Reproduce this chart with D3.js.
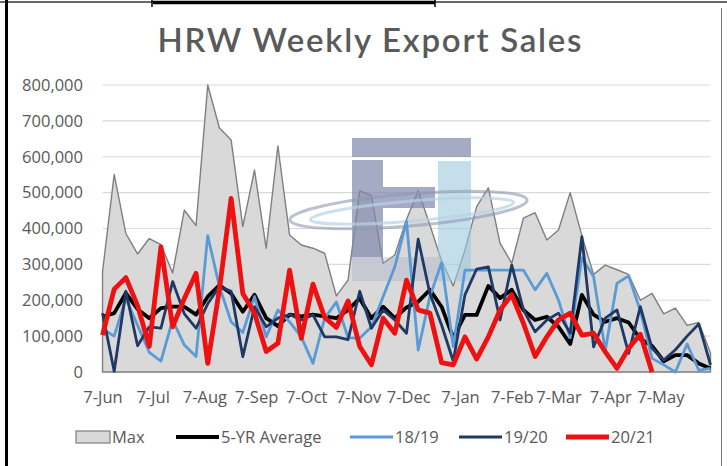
<!DOCTYPE html>
<html><head><meta charset="utf-8">
<script src="https://cdn.jsdelivr.net/npm/d3@7"></script>
<style>html,body{margin:0;padding:0;background:#fff;} svg{display:block;}</style>
</head><body>
<svg id="chart" width="727" height="466"></svg>
<script>
// ---- data ----
const firstWeek = "2020-06-07";
const weekCount = 53;
const maxSales = [278000,551000,386000,329000,372000,355000,276000,451000,408000,800000,
  680000,647000,405000,563000,345000,630000,382000,354000,345000,331000,
  212000,256000,505000,492000,303000,326000,425000,505000,410000,310000,
  240000,340000,461000,513000,359000,303000,429000,444000,368000,396000,
  500000,380000,272000,298000,285000,272000,200000,219000,162000,178000,
  130000,138000,53000];
const fiveYrAvg = [154000,164000,220000,175000,150000,178000,182000,182000,160000,210000,
  242000,219000,168000,215000,150000,128000,160000,155000,160000,155000,
  150000,173000,205000,150000,182000,150000,180000,196000,229000,182000,
  95000,159000,159000,240000,206000,229000,173000,145000,154000,126000,
  78000,215000,160000,140000,150000,138000,92000,73000,30000,47000,
  47000,24000,10000];
const sales1819 = [120000,100000,205000,130000,55000,30000,145000,75000,43000,380000,
  238000,140000,110000,210000,98000,173000,140000,98000,24000,150000,
  195000,96000,94000,126000,210000,293000,420000,61000,210000,305000,
  71000,284000,284000,284000,284000,284000,284000,229000,275000,200000,
  95000,318000,266000,60000,247000,268000,170000,38000,20000,0,
  78000,5000,10000];
const sales1920 = [164000,2000,225000,73000,126000,122000,252000,162000,122000,190000,
  238000,225000,43000,182000,126000,150000,160000,145000,159000,98000,
  98000,90000,225000,122000,173000,145000,108000,370000,219000,131000,
  30000,215000,287000,293000,145000,298000,173000,112000,145000,164000,
  108000,377000,70000,150000,173000,52000,182000,66000,33000,62000,
  100000,134000,20000];
const sales2021 = [103000,231000,263000,185000,71000,349000,126000,205000,275000,24000,
  230000,484000,219000,164000,57000,80000,284000,94000,245000,152000,
  124000,198000,71000,20000,150000,108000,256000,173000,164000,26000,
  20000,98000,36000,98000,173000,215000,136000,43000,98000,145000,
  164000,103000,108000,56000,10000,66000,105000,0];
const tickDates = ["2020-06-07","2020-07-07","2020-08-07","2020-09-07","2020-10-07","2020-11-07",
  "2020-12-07","2021-01-07","2021-02-07","2021-03-07","2021-04-07","2021-05-07"];
const tickLabels = ["7-Jun","7-Jul","7-Aug","7-Sep","7-Oct","7-Nov","7-Dec","7-Jan","7-Feb","7-Mar","7-Apr","7-May"];
const yTicks = [0,100000,200000,300000,400000,500000,600000,700000,800000];
const seriesNames = ["Max","5-YR Average","18/19","19/20","20/21"];

// ---- setup ----
const svg = d3.select("#chart");
const parse = d3.timeParse("%Y-%m-%d");
const start = parse(firstWeek);
const dates = d3.range(weekCount).map(i => d3.timeDay.offset(start, i * 7));
const x = d3.scaleTime().domain([dates[0], dates[weekCount - 1]]).range([102.5, 710.5]);
const y = d3.scaleLinear().domain([0, 800000]).range([372, 85]);
const txt = "#595959";
const font = "'Open Sans', sans-serif";

// frame
svg.append("rect").attr("x",0).attr("y",0).attr("width",727).attr("height",466).attr("fill","#fff");
svg.append("line").attr("x1",0).attr("x2",727).attr("y1",2).attr("y2",2).attr("stroke","#333").attr("stroke-width",1.5);
svg.append("line").attr("x1",153).attr("x2",435).attr("y1",2.5).attr("y2",2.5).attr("stroke","#000").attr("stroke-width",3.5);
svg.append("line").attr("x1",152).attr("x2",152).attr("y1",0).attr("y2",7).attr("stroke","#000").attr("stroke-width",1.5);
svg.append("line").attr("x1",435).attr("x2",435).attr("y1",0).attr("y2",7).attr("stroke","#000").attr("stroke-width",1.5);
svg.append("line").attr("x1",6.5).attr("x2",6.5).attr("y1",0).attr("y2",466).attr("stroke","#000").attr("stroke-width",3);
svg.append("line").attr("x1",721.5).attr("x2",721.5).attr("y1",8).attr("y2",466).attr("stroke","#777").attr("stroke-width",1);

// title
svg.append("text").attr("x",369.5).attr("y",52).attr("text-anchor","middle")
  .attr("font-family","Lato, 'Open Sans', sans-serif").attr("font-size",33).attr("font-weight",600).attr("fill","#5a5a5a")
  .attr("textLength",424).attr("lengthAdjust","spacing")
  .text("HRW Weekly Export Sales");

// gridlines
svg.append("g").selectAll("line").data(yTicks).join("line")
  .attr("x1",102.5).attr("x2",710.5).attr("y1",d=>y(d)).attr("y2",d=>y(d))
  .attr("stroke","#d9d9d9").attr("stroke-width",1.2);

// y axis
const yAxis = svg.append("g").attr("transform","translate(102.5,0)")
  .call(d3.axisLeft(y).tickValues(yTicks).tickFormat(d3.format(",")).tickSize(0).tickPadding(19.5));
yAxis.select(".domain").remove();
yAxis.selectAll("text").attr("font-family",font).attr("font-size",16.5).attr("fill",txt);

// x axis
const xAxis = svg.append("g").attr("transform","translate(0,372)")
  .call(d3.axisBottom(x).tickValues(tickDates.map(parse)).tickFormat((d,i)=>tickLabels[i]).tickSize(0).tickPadding(19));
xAxis.select(".domain").remove();
xAxis.selectAll("text").attr("font-family",font).attr("font-size",16.5).attr("fill",txt);

// max area
const maxData = dates.map((d,i)=>({date:d, v:maxSales[i]}));
svg.append("path").datum(maxData)
  .attr("d", d3.area().x(d=>x(d.date)).y0(y(0)).y1(d=>y(d.v)))
  .attr("fill","#d9d9d9").attr("stroke","#7f7f7f").attr("stroke-width",1.4).attr("stroke-linejoin","round");

// watermark logo
const logo = svg.append("g");
logo.append("rect").attr("x",352).attr("y",138).attr("width",119).attr("height",19).attr("fill","#7f88ad").attr("opacity",0.7);
logo.append("rect").attr("x",352).attr("y",160).attr("width",31).attr("height",97).attr("fill","#7f88ad").attr("opacity",0.7);
logo.append("rect").attr("x",383).attr("y",187).attr("width",52).attr("height",21).attr("fill","#7f88ad").attr("opacity",0.7);
logo.append("rect").attr("x",352).attr("y",257).attr("width",86).attr("height",24).attr("fill","#9aa6c4").attr("opacity",0.3);
logo.append("rect").attr("x",438).attr("y",161).attr("width",33).attr("height",120).attr("fill","#9cc8df").attr("opacity",0.6);
logo.append("ellipse").attr("cx",408.5).attr("cy",210).attr("rx",119).attr("ry",16)
  .attr("transform","rotate(-4.8,408.5,210)").attr("fill","none").attr("stroke","#8f97b3").attr("stroke-width",3).attr("opacity",0.6);
logo.append("ellipse").attr("cx",412).attr("cy",211).attr("rx",102).attr("ry",10)
  .attr("transform","rotate(-4.8,412,211)").attr("fill","none").attr("stroke","#b6d3e4").attr("stroke-width",3).attr("opacity",0.7);

// lines
const line = d3.line().x(d=>x(d.date)).y(d=>y(d.v));
const series = [
  {vals: fiveYrAvg, color:"#000000", w:3.8},
  {vals: sales1819, color:"#5b9bd5", w:2.8},
  {vals: sales1920, color:"#1f3864", w:2.8},
  {vals: sales2021, color:"#ee1111", w:4.8}
];
series.forEach(s=>{
  svg.append("path").datum(s.vals.map((v,i)=>({date:dates[i], v})))
    .attr("d", line).attr("fill","none").attr("stroke",s.color).attr("stroke-width",s.w)
    .attr("stroke-linejoin","round");
});

// legend
const lg = svg.append("g").attr("font-family",font).attr("font-size",16.5).attr("fill",txt);
lg.append("rect").attr("x",76).attr("y",431).attr("width",34).attr("height",12).attr("fill","#d9d9d9").attr("stroke","#7f7f7f").attr("stroke-width",1.2);
lg.append("text").attr("x",112).attr("y",443).text(seriesNames[0]);
const legItems = [
  {x:176, color:"#000000", w:4, name:seriesNames[1]},
  {x:350, color:"#5b9bd5", w:3, name:seriesNames[2]},
  {x:459, color:"#1f3864", w:3, name:seriesNames[3]},
  {x:566, color:"#ee1111", w:5, name:seriesNames[4]}
];
legItems.forEach(it=>{
  lg.append("line").attr("x1",it.x).attr("x2",it.x+43).attr("y1",437).attr("y2",437).attr("stroke",it.color).attr("stroke-width",it.w);
  lg.append("text").attr("x",it.x+45).attr("y",443).text(it.name);
});
</script>
</body></html>
